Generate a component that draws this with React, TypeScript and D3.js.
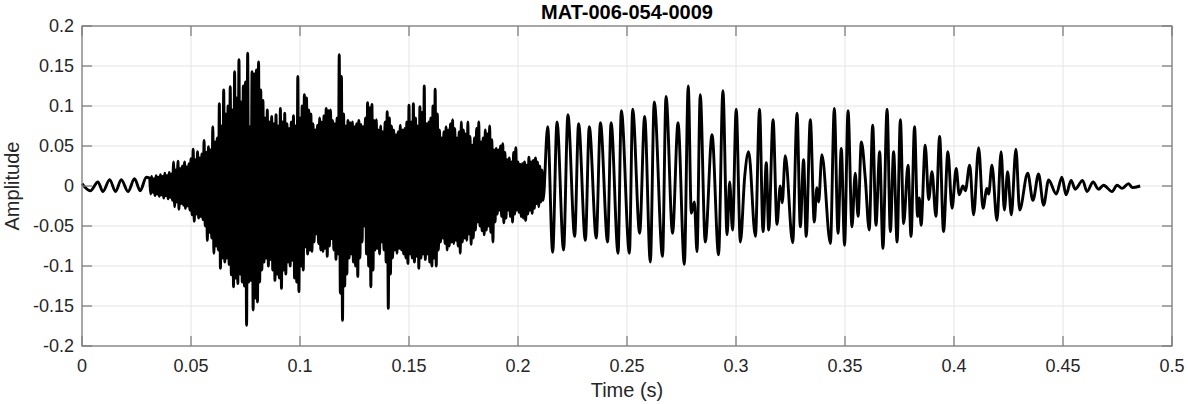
import React from 'react';
import * as d3 from 'd3';

const chartTitle = 'MAT-006-054-0009';
const xLabel = 'Time (s)';
const yLabel = 'Amplitude';
const xTickValues = [0, 0.05, 0.1, 0.15, 0.2, 0.25, 0.3, 0.35, 0.4, 0.45, 0.5];
const yTickValues = [-0.2, -0.15, -0.1, -0.05, 0, 0.05, 0.1, 0.15, 0.2];

// slow lead-in wiggle (extrema)
const leadTimes = [0.0, 0.0038, 0.0073, 0.0096, 0.0127, 0.0154, 0.018, 0.0211, 0.0241, 0.0267, 0.0295];
const leadValues = [0.003, -0.006, 0.005, -0.007, 0.008, -0.007, 0.008, -0.007, 0.009, -0.006, 0.011];

// dense noisy section: upper / lower peaks per 1 ms, starting at 0.031 s
const noiseStart = 0.031;
const noiseStep = 0.001;
const noiseUpper = [
  0.010, 0.012, 0.009, 0.013, 0.011, 0.014, 0.012, 0.016, 0.013, 0.017,
  0.015, 0.030, 0.020, 0.031, 0.022, 0.025, 0.030, 0.024, 0.028, 0.034,
  0.046, 0.033, 0.043, 0.035, 0.040, 0.057, 0.042, 0.049, 0.045, 0.074,
  0.055, 0.060, 0.103, 0.075, 0.120, 0.090, 0.100, 0.124, 0.095, 0.143,
  0.110, 0.158, 0.105, 0.125, 0.130, 0.166, 0.074, 0.143, 0.140, 0.145,
  0.155, 0.120, 0.107, 0.085, 0.095, 0.080, 0.087, 0.078, 0.089, 0.075,
  0.097, 0.080, 0.091, 0.078, 0.072, 0.080, 0.088, 0.075, 0.137, 0.085,
  0.100, 0.114, 0.110, 0.095, 0.090, 0.078, 0.070, 0.076, 0.085, 0.080,
  0.088, 0.097, 0.094, 0.095, 0.082, 0.078, 0.085, 0.164, 0.137, 0.090,
  0.075, 0.082, 0.079, 0.080, 0.074, 0.078, 0.082, 0.077, 0.074, 0.085,
  0.104, 0.098, 0.102, 0.082, 0.083, 0.070, 0.075, 0.068, 0.080, 0.093,
  0.085, 0.075, 0.070, 0.064, 0.068, 0.076, 0.070, 0.072, 0.080, 0.101,
  0.080, 0.103, 0.085, 0.075, 0.099, 0.092, 0.125, 0.078, 0.080, 0.085,
  0.100, 0.121, 0.090, 0.070, 0.060, 0.068, 0.074, 0.070, 0.078, 0.083,
  0.072, 0.060, 0.068, 0.080, 0.070, 0.065, 0.080, 0.062, 0.051, 0.060,
  0.072, 0.080, 0.055, 0.060, 0.070, 0.065, 0.075, 0.058, 0.045, 0.047,
  0.045, 0.050, 0.053, 0.042, 0.033, 0.035, 0.030, 0.042, 0.048, 0.030,
  0.027, 0.028, 0.030, 0.026, 0.036, 0.030, 0.032, 0.035, 0.030, 0.025, 0.020,
];
const noiseLower = [
  -0.010, -0.008, -0.012, -0.010, -0.013, -0.011, -0.015, -0.012, -0.016, -0.014,
  -0.018, -0.026, -0.020, -0.029, -0.022, -0.024, -0.028, -0.025, -0.030, -0.036,
  -0.044, -0.035, -0.040, -0.038, -0.042, -0.050, -0.068, -0.058, -0.065, -0.084,
  -0.075, -0.080, -0.103, -0.090, -0.095, -0.090, -0.098, -0.111, -0.126, -0.115,
  -0.122, -0.110, -0.120, -0.125, -0.174, -0.120, -0.118, -0.155, -0.140, -0.145,
  -0.120, -0.105, -0.095, -0.090, -0.100, -0.092, -0.105, -0.118, -0.110, -0.115,
  -0.128, -0.105, -0.110, -0.095, -0.100, -0.093, -0.115, -0.120, -0.132, -0.100,
  -0.105, -0.076, -0.085, -0.080, -0.082, -0.070, -0.060, -0.072, -0.080, -0.082,
  -0.078, -0.088, -0.075, -0.066, -0.080, -0.092, -0.085, -0.134, -0.168, -0.125,
  -0.110, -0.090, -0.085, -0.095, -0.100, -0.113, -0.090, -0.070, -0.050, -0.085,
  -0.100, -0.126, -0.105, -0.080, -0.078, -0.085, -0.070, -0.080, -0.095, -0.153,
  -0.110, -0.090, -0.080, -0.084, -0.078, -0.080, -0.085, -0.090, -0.097, -0.085,
  -0.090, -0.095, -0.088, -0.103, -0.090, -0.085, -0.092, -0.085, -0.095, -0.100,
  -0.090, -0.100, -0.080, -0.070, -0.065, -0.072, -0.080, -0.075, -0.070, -0.072,
  -0.068, -0.075, -0.084, -0.070, -0.065, -0.068, -0.060, -0.073, -0.065, -0.055,
  -0.045, -0.050, -0.056, -0.061, -0.055, -0.050, -0.058, -0.070, -0.045, -0.035,
  -0.030, -0.038, -0.046, -0.040, -0.030, -0.038, -0.045, -0.035, -0.030, -0.033,
  -0.038, -0.040, -0.043, -0.035, -0.030, -0.034, -0.028, -0.022, -0.026, -0.020, -0.018,
];

// voiced, periodic section (extrema)
const voicedTimes = [
  0.2136, 0.2159, 0.2179, 0.2209, 0.2229, 0.226, 0.2278, 0.2309, 0.2327, 0.2359,
  0.2378, 0.2411, 0.2427, 0.2459, 0.2474, 0.2511, 0.2526, 0.2558, 0.2581, 0.2607,
  0.2625, 0.2663, 0.2679, 0.2709, 0.2734, 0.2763, 0.2781, 0.2795, 0.2809, 0.2821,
  0.2836, 0.2859, 0.289, 0.292, 0.294, 0.2959, 0.2971, 0.2984, 0.3001, 0.302,
  0.304, 0.3058, 0.3089, 0.3108, 0.3124, 0.3139, 0.315, 0.317, 0.3188, 0.3203,
  0.3212, 0.3226, 0.326, 0.328, 0.3295, 0.331, 0.3322, 0.3341, 0.3359, 0.3371,
  0.3379, 0.3394, 0.3433, 0.3451, 0.3468, 0.3483, 0.3498, 0.3514, 0.3532, 0.3547,
  0.356, 0.3575, 0.3593, 0.3611, 0.3627, 0.3642, 0.3659, 0.3674, 0.3693, 0.3708,
  0.3723, 0.3739, 0.3754, 0.3769, 0.3789, 0.3803, 0.3819, 0.3833, 0.3841, 0.3849,
  0.3868, 0.3884, 0.3899, 0.3917, 0.3934, 0.3952, 0.3972, 0.3991, 0.401, 0.4024,
  0.4041, 0.4052, 0.4072, 0.409, 0.4113, 0.4133, 0.4151, 0.4159, 0.4174, 0.4197,
  0.4216, 0.4231, 0.4246, 0.4263, 0.4284, 0.4301, 0.4338, 0.4362, 0.4388, 0.4411,
  0.4434, 0.4469, 0.4495, 0.4514, 0.4537, 0.4556, 0.459, 0.461, 0.4638, 0.4663,
  0.4686, 0.4725, 0.4748, 0.4771, 0.4801, 0.4817, 0.4854,
];
const voicedValues = [
  0.074, -0.083, 0.080, -0.080, 0.089, -0.063, 0.078, -0.068, 0.074, -0.065,
  0.079, -0.070, 0.079, -0.084, 0.094, -0.084, 0.096, -0.059, 0.087, -0.095,
  0.105, -0.088, 0.112, -0.059, 0.079, -0.098, 0.125, -0.034, -0.020, -0.082,
  0.114, -0.070, 0.064, -0.086, 0.119, -0.061, 0.005, -0.055, 0.096, -0.070,
  0.012, 0.043, -0.063, 0.096, -0.057, 0.029, -0.055, 0.083, -0.048, 0.000,
  -0.021, 0.038, -0.071, 0.091, -0.051, 0.033, -0.063, 0.083, -0.045, -0.002,
  -0.020, 0.039, -0.072, 0.097, -0.059, 0.047, -0.074, 0.094, -0.051, 0.016,
  -0.038, 0.055, 0.010, -0.055, 0.076, -0.049, 0.043, -0.078, 0.096, -0.057,
  0.043, -0.070, 0.083, -0.047, 0.026, -0.063, 0.074, -0.038, -0.015, -0.049,
  0.051, -0.017, 0.018, -0.038, 0.062, -0.057, 0.043, -0.028, 0.022, -0.011,
  0.000, -0.006, 0.026, -0.036, 0.048, -0.028, -0.003, -0.010, 0.026, -0.043,
  0.043, -0.030, 0.018, -0.036, 0.046, -0.030, 0.016, -0.018, 0.015, -0.024,
  0.0075, -0.010, 0.011, -0.011, 0.007, -0.004, 0.007, -0.007, 0.005, -0.004,
  0.001, -0.007, 0.001, -0.003, 0.003, -0.002, 0.000,
];

const FONT = "'Liberation Sans', Arial, Helvetica, sans-serif";

function fmt(v: number): string {
  return String(+v.toFixed(2));
}

export default function App() {
  const W = 1188;
  const H = 404;
  const x = d3.scaleLinear().domain([0, 0.5]).range([82, 1172]);
  const y = d3.scaleLinear().domain([-0.2, 0.2]).range([346, 26]);

  const pts: [number, number][] = [];
  leadTimes.forEach((t, i) => pts.push([t, leadValues[i]]));
  noiseUpper.forEach((u, i) => {
    const t = noiseStart + i * noiseStep;
    pts.push([t, u]);
    pts.push([t + noiseStep / 2, noiseLower[i]]);
  });
  voicedTimes.forEach((t, i) => pts.push([t, voicedValues[i]]));

  const line = d3
    .line<[number, number]>()
    .x((d) => x(d[0]))
    .y((d) => y(d[1]))
    .curve(d3.curveMonotoneX);

  const [x0, x1] = x.range();
  const [yb, yt] = y.range();
  const tickLen = 10;
  const axisColor = '#7f7f7f';
  const gridColor = '#e4e4e4';
  const textColor = '#262626';

  return (
    <svg
      width={W}
      height={H}
      style={{ position: 'absolute', left: 0, top: 0, background: '#fff' }}
      fontFamily={FONT}
    >
      <rect x={0} y={0} width={W} height={H} fill="#fff" />
      {xTickValues.map((v) => (
        <line key={'gx' + v} x1={x(v)} x2={x(v)} y1={yt} y2={yb} stroke={gridColor} strokeWidth={1} />
      ))}
      {yTickValues.map((v) => (
        <line key={'gy' + v} x1={x0} x2={x1} y1={y(v)} y2={y(v)} stroke={gridColor} strokeWidth={1} />
      ))}
      <path d={line(pts) || ''} fill="none" stroke="#000" strokeWidth={2.9} strokeLinejoin="round" />
      {xTickValues.map((v) => (
        <g key={'tx' + v}>
          <line x1={x(v)} x2={x(v)} y1={yb} y2={yb - tickLen} stroke={axisColor} strokeWidth={1.3} />
          <line x1={x(v)} x2={x(v)} y1={yt} y2={yt + tickLen} stroke={axisColor} strokeWidth={1.3} />
          <text x={x(v)} y={yb + 26} textAnchor="middle" fontSize={18} fill={textColor}>
            {fmt(v)}
          </text>
        </g>
      ))}
      {yTickValues.map((v) => (
        <g key={'ty' + v}>
          <line x1={x0} x2={x0 + tickLen} y1={y(v)} y2={y(v)} stroke={axisColor} strokeWidth={1.3} />
          <line x1={x1} x2={x1 - tickLen} y1={y(v)} y2={y(v)} stroke={axisColor} strokeWidth={1.3} />
          <text x={x0 - 8} y={y(v)} dy="0.35em" textAnchor="end" fontSize={18} fill={textColor}>
            {fmt(v)}
          </text>
        </g>
      ))}
      <rect x={x0} y={yt} width={x1 - x0} height={yb - yt} fill="none" stroke={axisColor} strokeWidth={1.3} />
      <text x={(x0 + x1) / 2} y={397} textAnchor="middle" fontSize={20} fill={textColor}>
        {xLabel}
      </text>
      <text
        transform={`translate(19, ${(yt + yb) / 2}) rotate(-90)`}
        textAnchor="middle"
        fontSize={20}
        fill={textColor}
      >
        {yLabel}
      </text>
      <text x={(x0 + x1) / 2} y={19} textAnchor="middle" fontSize={20} fontWeight="bold" fill="#000">
        {chartTitle}
      </text>
    </svg>
  );
}
